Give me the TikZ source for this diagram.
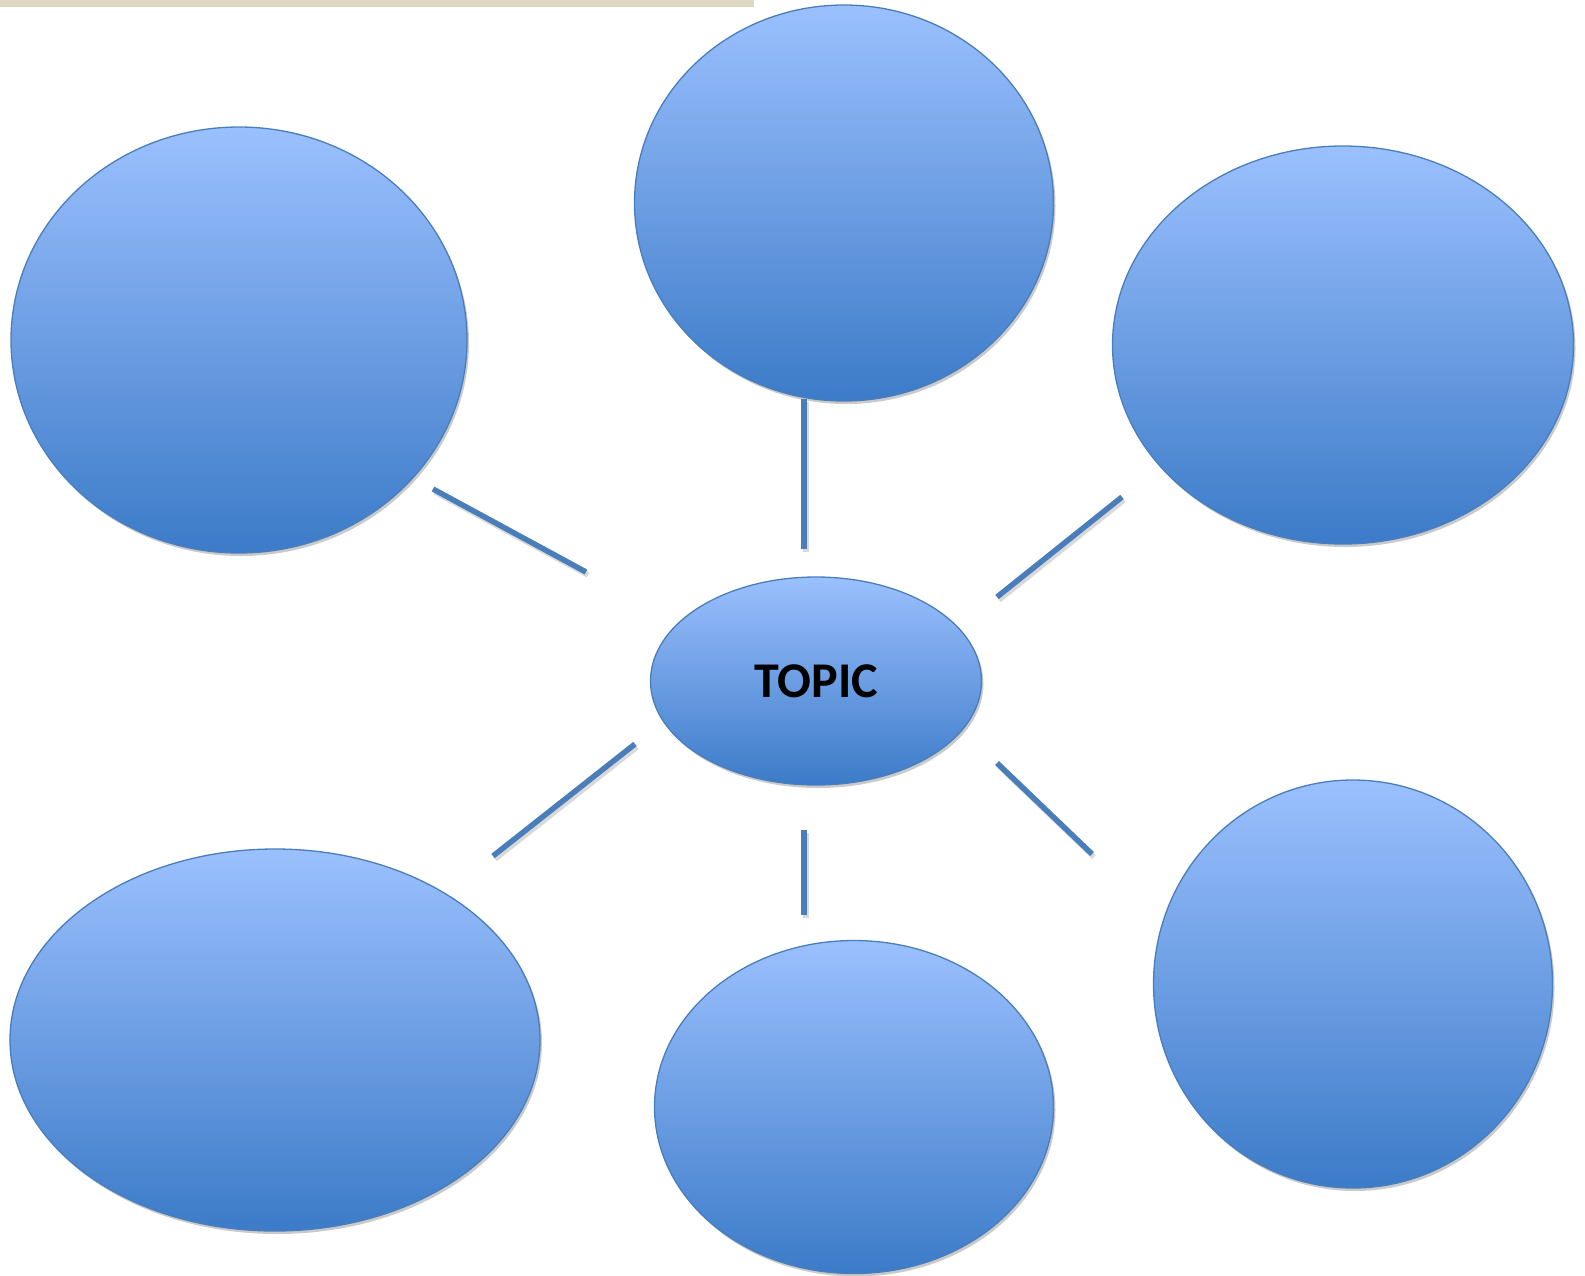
\documentclass[tikz,border=0pt]{standalone}
\usepackage{fontspec}
\setmainfont{Carlito}
\usetikzlibrary{shapes.geometric,shadows}
\definecolor{bubtop}{HTML}{9BC0FE}
\definecolor{bubbot}{HTML}{3C7BC8}
\definecolor{bubline}{HTML}{4A7EBB}
\definecolor{barc}{HTML}{DDD8C2}
\tikzset{
  bub/.style={ellipse, draw=bubline, line width=1.3pt, top color=bubtop, bottom color=bubbot, middle color=bubtop!50!bubbot, inner sep=0pt,
     drop shadow={opacity=0.35, fill=black!60, shadow xshift=2pt, shadow yshift=-3pt}},
  link/.style={draw=bubline, line width=5.5pt, line cap=butt},
  linkshadow/.style={draw=black!50, line width=5.5pt, opacity=0.3}
}
\begin{document}
\begin{tikzpicture}[x=1pt,y=-1pt]
\useasboundingbox (0,0) rectangle (1585,1275);
\fill[barc] (0,0) rectangle (754,7);
% bubbles
\node[bub, minimum width=456pt, minimum height=426pt] (tl) at (239,340) {};
\node[bub, minimum width=419pt, minimum height=396pt] (tc) at (844,203) {};
\node[bub, minimum width=461pt, minimum height=398pt] (tr) at (1343,345) {};
\node[bub, minimum width=331pt, minimum height=208pt, font=\bfseries\fontsize{50}{56}\selectfont] (c) at (816,681) {TOPIC};
\node[bub, minimum width=530pt, minimum height=382pt] (bl) at (275,1040) {};
\node[bub, minimum width=399pt, minimum height=333pt] (bc) at (854,1107) {};
\node[bub, minimum width=399pt, minimum height=408pt] (br) at (1353,984) {};
% connector endpoints
\coordinate (a1) at (433,489); \coordinate (a2) at (586,572);
\coordinate (b1) at (804,399); \coordinate (b2) at (804,549);
\coordinate (c1) at (1122,497); \coordinate (c2) at (997,597);
\coordinate (d1) at (635,744); \coordinate (d2) at (493,856);
\coordinate (e1) at (804,830); \coordinate (e2) at (804,915);
\coordinate (f1) at (997,763); \coordinate (f2) at (1092,854);
\foreach \p/\q in {a1/a2,b1/b2,c1/c2,d1/d2,e1/e2,f1/f2}{
  \draw[linkshadow] ([shift={(2,3)}]\p) -- ([shift={(2,3)}]\q);
}
\draw[link] (a1) -- (a2);
\draw[link] (b1) -- (b2);
\draw[link] (c1) -- (c2);
\draw[link] (d1) -- (d2);
\draw[link] (e1) -- (e2);
\draw[link] (f1) -- (f2);
\end{tikzpicture}
\end{document}
